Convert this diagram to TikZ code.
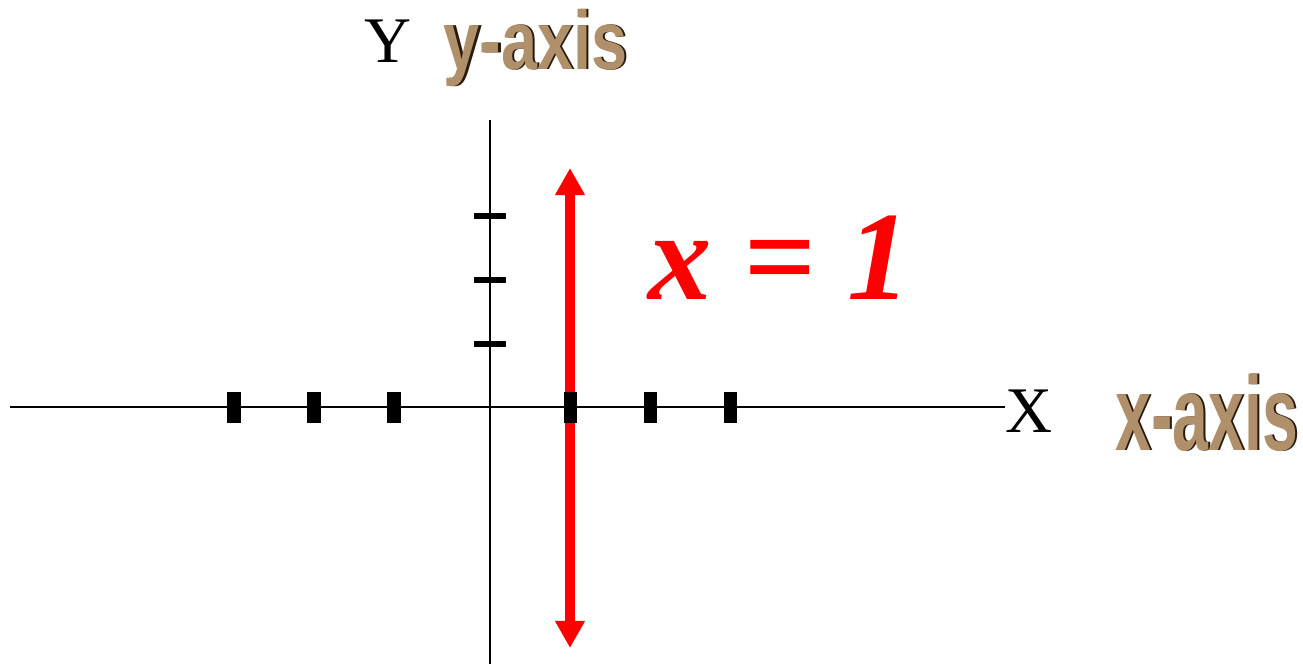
\documentclass[tikz,border=0pt]{standalone}
\usepackage{fontspec}
\setmainfont{Liberation Serif}
\newfontfamily\artfont{Liberation Sans}
\newfontfamily\eqfont{Liberation Serif Bold Italic}
\usetikzlibrary{arrows.meta}
\definecolor{axistan}{RGB}{176,144,106}
\definecolor{axisshade}{RGB}{42,26,12}
\newcommand{\wordart}[1]{\makebox[0pt][l]{\hspace{0.9pt}\color{axisshade}#1}{\color{axistan}#1}}

\begin{document}
\begin{tikzpicture}[x=0.01cm,y=-0.01cm,>={Triangle[length=7.7pt,width=8pt]},
 axis/.style={line width=0.6pt},
 xtick/.style={line width=3.7pt},
 ytick/.style={line width=1.7pt},
 lbl/.style={inner sep=0pt,anchor=base,font=\fontsize{18.5}{20}\selectfont},
 art/.style={inner sep=0pt,anchor=base west,font=\artfont\bfseries}]
\useasboundingbox (0,0) rectangle (1303,664);
\coordinate (xl) at (10,407);
\coordinate (yt) at (490,120);
\coordinate (yb) at (490,664);
\coordinate (lt) at (570,168);
\coordinate (lb) at (570,648);
\node[lbl] (Y) at (388,63) {Y};
\node[lbl] (X) at (1029,432) {X};
\node[art] (ya) at (443,70) {\scalebox{0.78}[1]{\fontsize{23.6}{26}\selectfont\wordart{y-axis}}};
\node[art] (xa) at (1115,450) {\scalebox{0.61}[1]{\fontsize{30}{33}\selectfont\wordart{x-axis}}};
\draw[red,line width=2.6pt,<->] (lb) -- (lt);
\draw[axis] (xl) -- (xl -| X.west);
\draw[axis] (yt) -- (yb);
\foreach \i in {234,314,394,570,650,730} \draw[xtick] (\i,392) -- (\i,423);
\foreach \j in {216,280,344} \draw[ytick] (474,\j) -- (506,\j);
\node[text=red,inner sep=0pt,anchor=base west,font=\eqfont\fontsize{36}{40}\selectfont] (eq) at (648,300) {x = 1};
\end{tikzpicture}
\end{document}
